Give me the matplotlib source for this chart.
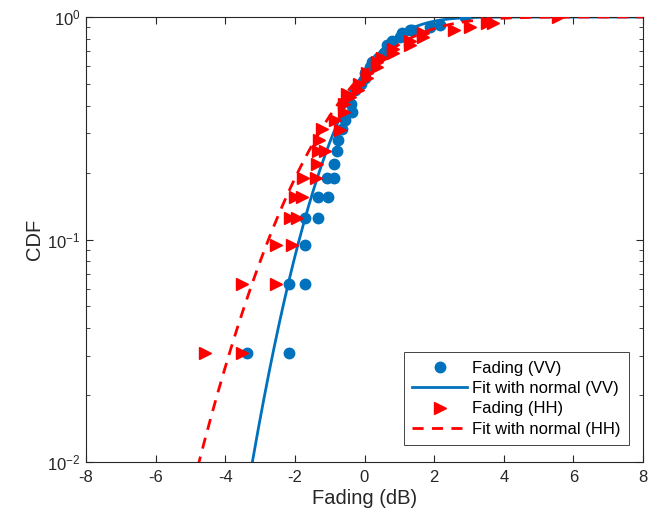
import math
import numpy as np
import matplotlib
matplotlib.use("Agg")
import matplotlib.pyplot as plt
from matplotlib.ticker import LogLocator, NullFormatter

plt.rcParams['font.family'] = ['Liberation Sans', 'DejaVu Sans']
plt.rcParams['axes.unicode_minus'] = False
plt.rcParams['mathtext.fontset'] = 'custom'
plt.rcParams['mathtext.rm'] = 'Liberation Sans'
plt.rcParams['mathtext.it'] = 'Liberation Sans:italic'
plt.rcParams['mathtext.bf'] = 'Liberation Sans:bold'
plt.rcParams['mathtext.default'] = 'regular'

# Empirical fading samples (dB) and their CDF levels
vv_x = [-3.38, -2.16, -2.16, -1.72, -1.71, -1.71, -1.35, -1.35, -1.04, -1.08, -0.89,
        -0.89, -0.80, -0.76, -0.65, -0.55, -0.37, -0.40, -0.47, -0.27, -0.10, 0.02,
        0.02, 0.15, 0.21, 0.40, 0.55, 0.64, 0.64, 0.80, 1.02, 1.07, 1.31, 1.36,
        1.89, 2.17, 2.89]
vv_y = [0.031, 0.031, 0.063, 0.063, 0.094, 0.125, 0.125, 0.156, 0.156, 0.188, 0.188,
        0.219, 0.250, 0.281, 0.313, 0.344, 0.375, 0.406, 0.438, 0.469, 0.500, 0.531,
        0.563, 0.594, 0.625, 0.656, 0.688, 0.719, 0.750, 0.781, 0.813, 0.844, 0.875, 0.875,
        0.906, 0.922, 0.995]

hh_x = [-4.58, -3.53, -3.53, -2.53, -2.55, -2.09, -2.14, -1.95, -1.99, -1.80, -1.78,
        -1.39, -1.37, -1.33, -1.13, -1.30, -1.23, -0.70, -0.85, -0.60, -0.60, -0.41,
        -0.51, -0.18, -0.17, 0.07, 0.07, 0.35, 0.35, 0.50, 0.83, 0.83, 1.31, 1.31,
        1.69, 1.69, 2.56, 3.03, 3.51, 3.70, 5.57]
hh_y = [0.031, 0.031, 0.063, 0.063, 0.094, 0.094, 0.125, 0.125, 0.156, 0.156, 0.188,
        0.188, 0.219, 0.250, 0.250, 0.281, 0.313, 0.310, 0.344, 0.375, 0.406, 0.438,
        0.450, 0.469, 0.500, 0.531, 0.563, 0.594, 0.625, 0.656, 0.688, 0.719, 0.750, 0.781,
        0.813, 0.844, 0.875, 0.906, 0.938, 0.938, 0.995]

# Normal fit parameters (mean, std) in dB
vv_mu, vv_sigma = -0.22, 1.29
hh_mu, hh_sigma = -0.31, 1.91

x_ticks = [-8, -6, -4, -2, 0, 2, 4, 6, 8]

blue = (0.0, 0.447, 0.741)
red = (1.0, 0.0, 0.0)

erf = np.vectorize(math.erf)
def norm_cdf(x, mu, s):
    return 0.5 * (1 + erf((x - mu) / (s * math.sqrt(2))))

fig = plt.figure(figsize=(6.65, 5.23), dpi=100)
ax = fig.add_axes([86/665, 1-462/523, (643-86)/665, (462-17)/523])

xf = np.linspace(-8, 8, 800)
ax.semilogy(vv_x, vv_y, 'o', color=blue, markersize=7.5, linestyle='none', label='Fading (VV)', zorder=3)
ax.semilogy(xf, norm_cdf(xf, vv_mu, vv_sigma), '-', color=blue, lw=2, label='Fit with normal (VV)', zorder=2)
ax.semilogy(hh_x, hh_y, '>', color=red, markersize=8, linestyle='none', label='Fading (HH)', zorder=4)
ax.semilogy(xf, norm_cdf(xf, hh_mu, hh_sigma), '--', color=red, lw=2, dashes=(4, 3), label='Fit with normal (HH)', zorder=5)

ax.set_xlim(-8, 8)
ax.set_ylim(1e-2, 1)
ax.set_xticks(x_ticks)
ax.set_xticklabels([str(t) for t in x_ticks])
ax.yaxis.set_major_locator(LogLocator(base=10, numticks=10))
ax.yaxis.set_minor_locator(LogLocator(base=10, subs=np.arange(2, 10), numticks=10))
ax.yaxis.set_minor_formatter(NullFormatter())

tc = (0.15, 0.15, 0.15)
for sp in ax.spines.values():
    sp.set_color(tc)
    sp.set_linewidth(0.8)
ax.tick_params(which='both', direction='in', top=True, right=True, colors=tc, labelsize=12)
ax.tick_params(which='major', length=5)
ax.tick_params(which='minor', length=3)
ax.tick_params(axis='x', pad=6)
ax.tick_params(axis='y', pad=4)

ax.set_xlabel('Fading (dB)', fontsize=14.5, color=tc, labelpad=3)
ax.set_ylabel('CDF', fontsize=14.5, color=tc, labelpad=2)

leg = ax.legend(loc='lower right', bbox_to_anchor=(0.975, 0.038), fontsize=12,
                fancybox=False, framealpha=1, edgecolor=tc, handlelength=3.3,
                borderpad=0.5, labelspacing=0.32, handletextpad=0.3, borderaxespad=0)
leg.get_frame().set_linewidth(0.6)

fig.savefig('out.png', dpi=100)
